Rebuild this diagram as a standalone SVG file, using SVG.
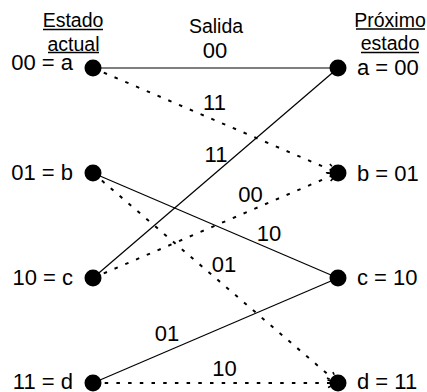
<svg xmlns="http://www.w3.org/2000/svg" width="427" height="392" viewBox="0 0 427 392">
<defs>
<style>
text{font-family:"Liberation Sans",Arial,Helvetica,sans-serif;fill:#000}
.hd{font-size:19.5px;text-anchor:middle}
.st{font-size:22px}
.lb{font-size:22px;text-anchor:middle}
.solid{stroke:#000;stroke-width:1.2;fill:none}
.dot{stroke:#000;stroke-width:2;fill:none;stroke-dasharray:3.5 8.2}
.ul{stroke:#000;stroke-width:1.3}
.node{fill:#000}
</style>
<marker id="arr" markerUnits="userSpaceOnUse" markerWidth="30" markerHeight="30" refX="0" refY="0" viewBox="-15 -15 30 30" orient="auto">
<path d="M-11,-5 L0,0 L-11,5" stroke="#000" stroke-width="1.6" fill="none" stroke-dasharray="3 2"/>
</marker>
</defs>

<g id="headings">
<text class="hd" x="73" y="27">Estado</text>
<line class="ul" x1="43" y1="29.5" x2="103" y2="29.5"/>
<text class="hd" x="73.5" y="50.5">actual</text>
<line class="ul" x1="48" y1="52.5" x2="99" y2="52.5"/>
<text class="hd" x="216" y="33">Salida</text>
<text class="hd" x="390" y="27">Próximo</text>
<line class="ul" x1="356" y1="29" x2="425" y2="29"/>
<text class="hd" x="390" y="50">estado</text>
<line class="ul" x1="361" y1="52.5" x2="419" y2="52.5"/>
</g>

<g id="connectors">
<line class="solid" x1="93" y1="68" x2="338" y2="68"/>
<line class="dot" x1="93" y1="68" x2="338" y2="173" marker-end="url(#arr)"/>
<line class="solid" x1="93" y1="173" x2="338" y2="278"/>
<line class="dot" x1="93" y1="173" x2="338" y2="383" marker-end="url(#arr)"/>
<line class="solid" x1="93" y1="278" x2="338" y2="68"/>
<line class="dot" x1="93" y1="278" x2="338" y2="173" marker-end="url(#arr)"/>
<line class="solid" x1="93" y1="383" x2="338" y2="278"/>
<line class="dot" x1="93" y1="383" x2="338" y2="383" marker-end="url(#arr)"/>
<g id="edge-labels">
<text class="lb" x="215" y="58">00</text>
<text class="lb" x="214.5" y="110">11</text>
<text class="lb" x="216" y="162">11</text>
<text class="lb" x="250.5" y="202">00</text>
<text class="lb" x="269" y="241">10</text>
<text class="lb" x="224" y="272">01</text>
<text class="lb" x="167" y="341">01</text>
<text class="lb" x="224.5" y="376">10</text>
</g>
</g>

<g id="node-a-cur"><circle class="node" cx="93" cy="68" r="8.5"/><text class="st" x="73" y="70" text-anchor="end">00 = a</text></g>
<g id="node-b-cur"><circle class="node" cx="93" cy="173" r="8.5"/><text class="st" x="73" y="180" text-anchor="end">01 = b</text></g>
<g id="node-c-cur"><circle class="node" cx="93" cy="278" r="8.5"/><text class="st" x="73" y="285" text-anchor="end">10 = c</text></g>
<g id="node-d-cur"><circle class="node" cx="93" cy="383" r="8.5"/><text class="st" x="73" y="389" text-anchor="end">11 = d</text></g>

<g id="node-a-next"><circle class="node" cx="338" cy="68" r="8.5"/><text class="st" x="357" y="75">a = 00</text></g>
<g id="node-b-next"><circle class="node" cx="338" cy="173" r="8.5"/><text class="st" x="357" y="181">b = 01</text></g>
<g id="node-c-next"><circle class="node" cx="338" cy="278" r="8.5"/><text class="st" x="357" y="285">c = 10</text></g>
<g id="node-d-next"><circle class="node" cx="338" cy="383" r="8.5"/><text class="st" x="357" y="389">d = 11</text></g>
</svg>
